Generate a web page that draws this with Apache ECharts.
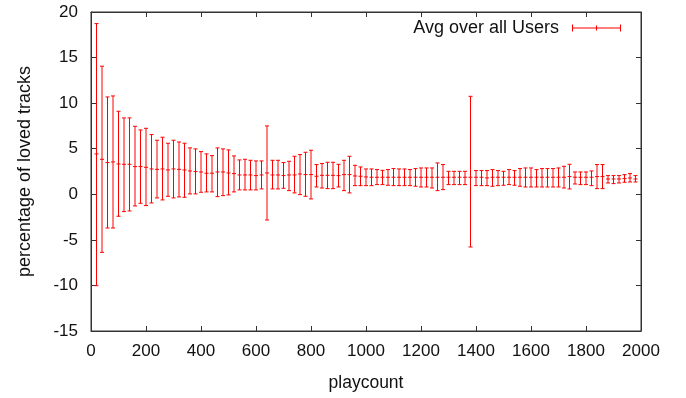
<!DOCTYPE html>
<html>
<head>
<meta charset="utf-8">
<script src="https://cdn.jsdelivr.net/npm/echarts@6/dist/echarts.min.js"></script>
<style>
  html, body { margin: 0; padding: 0; background: #fff; }
  #chart { width: 686px; height: 398px; }
</style>
</head>
<body>
<div id="chart"></div>
<script>
// playcount buckets
const playcount = [
  20, 40, 60, 80, 100, 120, 140, 160, 180, 200,
  220, 240, 260, 280, 300, 320, 340, 360, 380, 400,
  420, 440, 460, 480, 500, 520, 540, 560, 580, 600,
  620, 640, 660, 680, 700, 720, 740, 760, 780, 800,
  820, 840, 860, 880, 900, 920, 940, 960, 980, 1000,
  1020, 1040, 1060, 1080, 1100, 1120, 1140, 1160, 1180, 1200,
  1220, 1240, 1260, 1280, 1300, 1320, 1340, 1360, 1380, 1400,
  1420, 1440, 1460, 1480, 1500, 1520, 1540, 1560, 1580, 1600,
  1620, 1640, 1660, 1680, 1700, 1720, 1740, 1760, 1780, 1800,
  1820, 1840, 1860, 1880, 1900, 1920, 1940, 1960, 1980
];
// average percentage of loved tracks
const avgLoved = [
  4.43, 3.84, 3.48, 3.55, 3.33, 3.29, 3.29, 3.04, 3.04, 2.96,
  2.78, 2.74, 2.78, 2.67, 2.78, 2.74, 2.67, 2.56, 2.49, 2.45,
  2.31, 2.31, 2.45, 2.45, 2.34, 2.27, 2.12, 2.12, 2.12, 2.05,
  2.12, 2.34, 2.12, 2.12, 2.05, 2.12, 2.12, 2.23, 2.16, 2.16,
  1.98, 2.08, 2.08, 2.08, 2.05, 2.16, 2.16, 2.01, 1.98, 1.90,
  1.87, 1.87, 1.87, 1.87, 1.87, 1.87, 1.87, 1.87, 1.87, 1.87,
  1.87, 1.87, 1.87, 1.87, 1.87, 1.87, 1.87, 1.87, 1.87, 1.87,
  1.87, 1.80, 1.87, 1.87, 1.87, 1.87, 1.87, 1.87, 1.87, 1.87,
  1.87, 1.87, 1.87, 1.87, 1.87, 1.87, 1.94, 1.87, 1.87, 1.87,
  1.87, 1.94, 1.94, 1.68, 1.68, 1.68, 1.72, 1.79, 1.68
];
// lower end of the error bar
const lowLoved = [
  -10.03, -6.37, -3.70, -3.70, -2.41, -1.90, -1.83, -1.28, -0.99, -1.24,
  -0.95, -0.40, -0.62, -0.22, -0.40, -0.29, -0.33, 0.04, 0.04, 0.22,
  0.26, 0.26, -0.26, -0.15, -0.07, 0.26, 0.48, 0.48, 0.48, 0.48,
  0.59, -2.82, 0.59, 0.59, 0.66, 0.40, 0.15, -0.04, -0.22, -0.51,
  0.80, 0.69, 0.62, 0.62, 0.80, 0.40, 0.15, 0.95, 0.95, 0.95,
  0.95, 1.06, 1.06, 0.99, 0.95, 0.95, 0.95, 0.95, 0.88, 0.80,
  0.80, 0.69, 0.40, 0.51, 1.06, 1.06, 1.06, 1.06, -5.78, 0.95,
  0.95, 0.95, 0.88, 0.95, 0.99, 1.06, 0.99, 0.88, 0.80, 0.80,
  0.80, 0.80, 0.80, 0.80, 0.80, 0.69, 0.59, 1.13, 1.06, 1.06,
  0.95, 0.62, 0.62, 1.24, 1.17, 1.24, 1.32, 1.35, 1.35
];
// upper end of the error bar
const highLoved = [
  18.73, 14.05, 10.68, 10.79, 9.11, 8.38, 8.38, 7.46, 7.06, 7.24,
  6.55, 5.93, 6.26, 5.60, 5.93, 5.74, 5.60, 5.09, 4.98, 4.68,
  4.43, 4.24, 5.09, 4.98, 4.87, 4.21, 3.77, 3.84, 3.73, 3.66,
  3.66, 7.50, 3.73, 3.73, 3.48, 3.62, 4.17, 4.35, 4.61, 4.83,
  3.26, 3.37, 3.51, 3.51, 3.29, 3.73, 4.17, 3.18, 3.00, 2.78,
  2.78, 2.71, 2.63, 2.71, 2.82, 2.78, 2.78, 2.71, 2.82, 2.89,
  2.89, 2.89, 3.44, 3.26, 2.52, 2.52, 2.52, 2.52, 10.75, 2.60,
  2.60, 2.60, 2.71, 2.60, 2.52, 2.71, 2.60, 2.82, 2.89, 2.89,
  2.71, 2.82, 2.82, 2.82, 2.89, 3.07, 3.29, 2.45, 2.45, 2.45,
  2.56, 3.26, 3.26, 2.05, 2.05, 2.05, 2.16, 2.27, 2.05
];
const xTicks = { min: 0, max: 2000, interval: 200 };
const yTicks = { min: -15, max: 20, interval: 5 };

const seriesData = playcount.map(function (p, i) {
  return [p, avgLoved[i], lowLoved[i], highLoved[i]];
});

function renderErrorBar(params, api) {
  const x = api.value(0);
  const c = api.coord([x, api.value(1)]);
  const lo = api.coord([x, api.value(2)]);
  const hi = api.coord([x, api.value(3)]);
  const hw = 2; // half width of caps
  const style = { stroke: '#ff0000', lineWidth: 1, fill: null };
  return {
    type: 'group',
    children: [
      { type: 'line', shape: { x1: c[0], y1: hi[1], x2: c[0], y2: lo[1] }, style: style },
      { type: 'line', shape: { x1: c[0] - hw, y1: hi[1], x2: c[0] + hw, y2: hi[1] }, style: style },
      { type: 'line', shape: { x1: c[0] - hw, y1: lo[1], x2: c[0] + hw, y2: lo[1] }, style: style },
      { type: 'line', shape: { x1: c[0] - hw, y1: c[1], x2: c[0] + hw, y2: c[1] }, style: style }
    ]
  };
}

const labelFont = { fontFamily: 'Liberation Sans, Arial, sans-serif', fontSize: 17, color: '#111' };
const axisLineStyle = { color: '#333', width: 1 };
const plainNumber = function (v) { return String(v); };

const option = {
  animation: false,
  backgroundColor: '#fff',
  grid: {
    left: 91, right: 45, top: 12, bottom: 67,
    show: true, borderColor: '#333', borderWidth: 1
  },
  legend: {
    data: ['Avg over all Users'],
    right: 60,
    top: 14,
    align: 'right',
    itemWidth: 49,
    itemHeight: 7,
    icon: 'path://M0,0h1v7h-1z M48,0h1v7h-1z M0,3h49v1h-49z M24,1h1v5h-1z',
    itemStyle: { color: '#ff0000' },
    textStyle: {
      fontFamily: 'Liberation Sans, Arial, sans-serif',
      fontSize: 18,
      color: '#111',
      padding: [0, 8, 0, 0]
    }
  },
  xAxis: [
    {
      type: 'value',
      min: xTicks.min, max: xTicks.max, interval: xTicks.interval,
      name: 'playcount',
      nameLocation: 'middle',
      nameGap: 43,
      nameTextStyle: { fontFamily: 'Liberation Sans, Arial, sans-serif', fontSize: 17.5, color: '#111' },
      axisLine: { show: true, onZero: false, lineStyle: axisLineStyle },
      axisTick: { show: true, inside: true, length: 5, lineStyle: axisLineStyle },
      axisLabel: Object.assign({ margin: 12, formatter: plainNumber }, labelFont),
      splitLine: { show: false }
    },
    {
      type: 'value', position: 'top',
      min: xTicks.min, max: xTicks.max, interval: xTicks.interval,
      axisLine: { show: true, onZero: false, lineStyle: axisLineStyle },
      axisTick: { show: true, inside: true, length: 5, lineStyle: axisLineStyle },
      axisLabel: { show: false },
      splitLine: { show: false }
    }
  ],
  yAxis: [
    {
      type: 'value',
      min: yTicks.min, max: yTicks.max, interval: yTicks.interval,
      name: 'percentage of loved tracks',
      nameLocation: 'middle',
      nameGap: 57,
      nameTextStyle: { fontFamily: 'Liberation Sans, Arial, sans-serif', fontSize: 18, color: '#111' },
      axisLine: { show: true, onZero: false, lineStyle: axisLineStyle },
      axisTick: { show: true, inside: true, length: 5, lineStyle: axisLineStyle },
      axisLabel: Object.assign({ margin: 13, formatter: plainNumber }, labelFont),
      splitLine: { show: false }
    },
    {
      type: 'value', position: 'right',
      min: yTicks.min, max: yTicks.max, interval: yTicks.interval,
      axisLine: { show: true, onZero: false, lineStyle: axisLineStyle },
      axisTick: { show: true, inside: true, length: 5, lineStyle: axisLineStyle },
      axisLabel: { show: false },
      splitLine: { show: false }
    }
  ],
  series: [
    {
      name: 'Avg over all Users',
      type: 'custom',
      xAxisIndex: 0,
      yAxisIndex: 0,
      renderItem: renderErrorBar,
      itemStyle: { color: '#ff0000' },
      encode: { x: 0, y: [1, 2, 3] },
      data: seriesData
    }
  ]
};

const chartObj = echarts.init(document.getElementById('chart'));
chartObj.setOption(option);
window.addEventListener('resize', function () {
  chartObj.resize();
});
</script>
</body>
</html>
